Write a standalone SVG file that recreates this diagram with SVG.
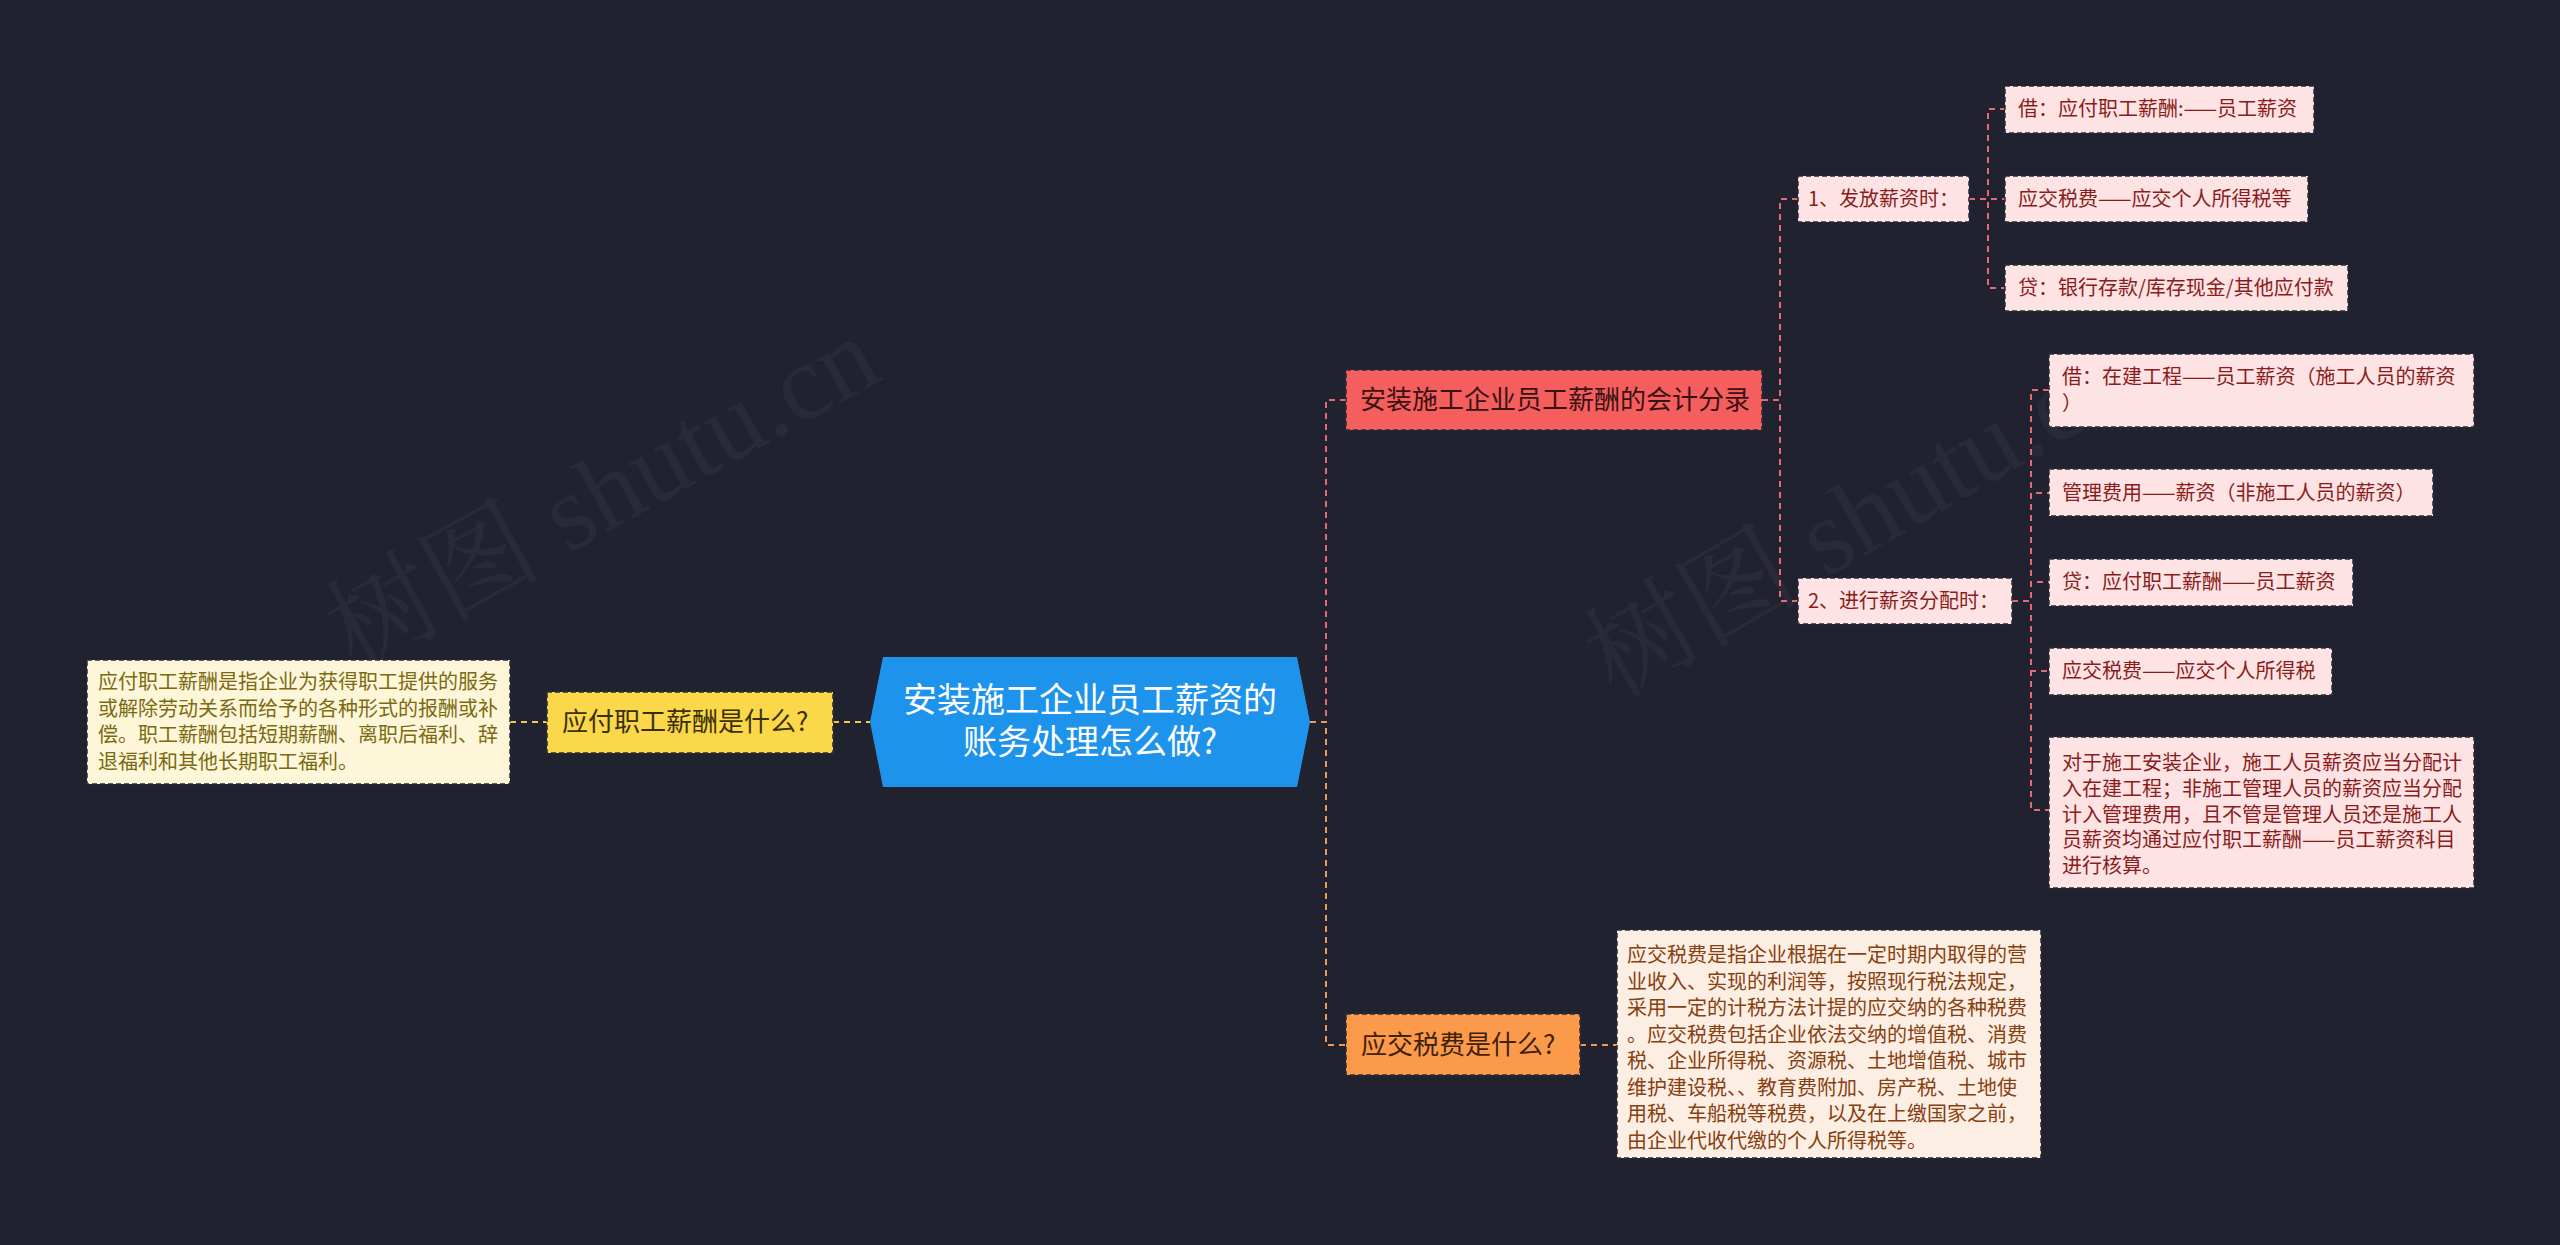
<svg xmlns="http://www.w3.org/2000/svg" width="2560" height="1245" viewBox="0 0 2560 1245">
<style>
text{font-family:"Noto Sans CJK SC","Noto Sans",sans-serif}
.c{fill:none;stroke-width:2;stroke-dasharray:6 5}
.cy{stroke:#f2c94c}
.cr{stroke:#e46a70}
.co{stroke:#ee9a5c}
.b{stroke:#2a2d38;stroke-width:1.5;stroke-dasharray:5 3}
.pk{fill:#fde3e3}
.pt{fill:#8b1c1c;font-size:20px}
.wm{fill:#ffffff;fill-opacity:0.04;font-family:"Liberation Serif","Noto Serif CJK SC","Noto Sans CJK SC",serif;font-size:108px}
</style>
<rect width="2560" height="1245" fill="#20232f"/>
<text class="wm" transform="translate(355,672) rotate(-29)">树图 shutu.cn</text>
<text class="wm" transform="translate(1615,700) rotate(-30)">树图 shutu.cn</text>
<g id="connectors">
<path class="c cy" d="M833,722 H870"/>
<path class="c cy" d="M510,722 H547"/>
<path class="c cr" d="M1310,722 H1326 V400 H1346"/>
<path class="c co" d="M1310,722 H1326 V1045 H1346"/>
<path class="c cr" d="M1762,400 H1780 V199 H1798"/>
<path class="c cr" d="M1762,400 H1780 V601 H1798"/>
<path class="c cr" d="M1969,199 H1988 V109 H2005"/>
<path class="c cr" d="M1969,199 H2005"/>
<path class="c cr" d="M1969,199 H1988 V288 H2005"/>
<path class="c cr" d="M2012,601 H2031 V390 H2049"/>
<path class="c cr" d="M2012,601 H2031 V493 H2049"/>
<path class="c cr" d="M2012,601 H2031 V582 H2049"/>
<path class="c cr" d="M2012,601 H2031 V671 H2049"/>
<path class="c cr" d="M2012,601 H2031 V810 H2049"/>
<path class="c co" d="M1580,1045 H1617"/>
</g>
<g id="root">
<polygon points="870,722 883,657 1297,657 1310,722 1297,787 883,787" fill="#1e93ec"/>
<text text-anchor="middle" fill="#ffffff" font-size="34"><tspan x="1090" y="712">安装施工企业员工薪资的</tspan><tspan x="1090" y="754">账务处理怎么做?</tspan></text>
</g>
<g id="n-yingfu">
<rect class="b" x="547" y="692" width="286" height="61" fill="#fbd74a"/>
<text x="562" y="731" fill="#3a2f05" font-size="26">应付职工薪酬是什么?</text>
</g>
<g id="n-yingfu-desc">
<rect class="b" x="87" y="660" width="423" height="124" fill="#fdf6d8"/>
<text fill="#7b6a12" font-size="20"><tspan x="98" y="689">应付职工薪酬是指企业为获得职工提供的服务</tspan><tspan x="98" y="715.5">或解除劳动关系而给予的各种形式的报酬或补</tspan><tspan x="98" y="742">偿。职工薪酬包括短期薪酬、离职后福利、辞</tspan><tspan x="98" y="768.5">退福利和其他长期职工福利。</tspan></text>
</g>
<g id="n-fenlu">
<rect class="b" x="1346" y="370" width="416" height="60" fill="#f45e5e"/>
<text x="1360" y="409" fill="#3a1212" font-size="26">安装施工企业员工薪酬的会计分录</text>
</g>
<g id="n-fafang">
<rect class="b pk" x="1798" y="176" width="171" height="46"/>
<text class="pt" x="1808" y="206">1、发放薪资时：</text>
</g>
<g id="n-f1">
<rect class="b pk" x="2005" y="86" width="309" height="47"/>
<text class="pt" x="2018" y="116">借：应付职工薪酬:——员工薪资</text>
</g>
<g id="n-f2">
<rect class="b pk" x="2005" y="176" width="303" height="46"/>
<text class="pt" x="2018" y="206">应交税费——应交个人所得税等</text>
</g>
<g id="n-f3">
<rect class="b pk" x="2005" y="265" width="343" height="46"/>
<text class="pt" x="2018" y="295">贷：银行存款/库存现金/其他应付款</text>
</g>
<g id="n-fenpei">
<rect class="b pk" x="1798" y="578" width="214" height="46"/>
<text class="pt" x="1808" y="608">2、进行薪资分配时：</text>
</g>
<g id="n-p1">
<rect class="b pk" x="2049" y="354" width="425" height="73"/>
<text class="pt"><tspan x="2062" y="384">借：在建工程——员工薪资（施工人员的薪资</tspan><tspan x="2062" y="410">）</tspan></text>
</g>
<g id="n-p2">
<rect class="b pk" x="2049" y="469" width="384" height="47"/>
<text class="pt" x="2062" y="500">管理费用——薪资（非施工人员的薪资）</text>
</g>
<g id="n-p3">
<rect class="b pk" x="2049" y="559" width="304" height="47"/>
<text class="pt" x="2062" y="589">贷：应付职工薪酬——员工薪资</text>
</g>
<g id="n-p4">
<rect class="b pk" x="2049" y="648" width="283" height="47"/>
<text class="pt" x="2062" y="678">应交税费——应交个人所得税</text>
</g>
<g id="n-p5">
<rect class="b pk" x="2049" y="737" width="425" height="151"/>
<text class="pt"><tspan x="2062" y="770">对于施工安装企业，施工人员薪资应当分配计</tspan><tspan x="2062" y="795.8">入在建工程；非施工管理人员的薪资应当分配</tspan><tspan x="2062" y="821.6">计入管理费用，且不管是管理人员还是施工人</tspan><tspan x="2062" y="847.4">员薪资均通过应付职工薪酬——员工薪资科目</tspan><tspan x="2062" y="873.2">进行核算。</tspan></text>
</g>
<g id="n-shuifei">
<rect class="b" x="1346" y="1014" width="234" height="61" fill="#fc9a4c"/>
<text x="1361" y="1054" fill="#3f2208" font-size="26">应交税费是什么?</text>
</g>
<g id="n-shuifei-desc">
<rect class="b" x="1617" y="930" width="424" height="228" fill="#fdeee3"/>
<text fill="#874010" font-size="20"><tspan x="1627" y="962">应交税费是指企业根据在一定时期内取得的营</tspan><tspan x="1627" y="988.5">业收入、实现的利润等，按照现行税法规定，</tspan><tspan x="1627" y="1015">采用一定的计税方法计提的应交纳的各种税费</tspan><tspan x="1627" y="1041.5">。应交税费包括企业依法交纳的增值税、消费</tspan><tspan x="1627" y="1068">税、企业所得税、资源税、土地增值税、城市</tspan><tspan x="1627" y="1094.5">维护建设税、、教育费附加、房产税、土地使</tspan><tspan x="1627" y="1121">用税、车船税等税费，以及在上缴国家之前，</tspan><tspan x="1627" y="1147.5">由企业代收代缴的个人所得税等。</tspan></text>
</g>
</svg>
